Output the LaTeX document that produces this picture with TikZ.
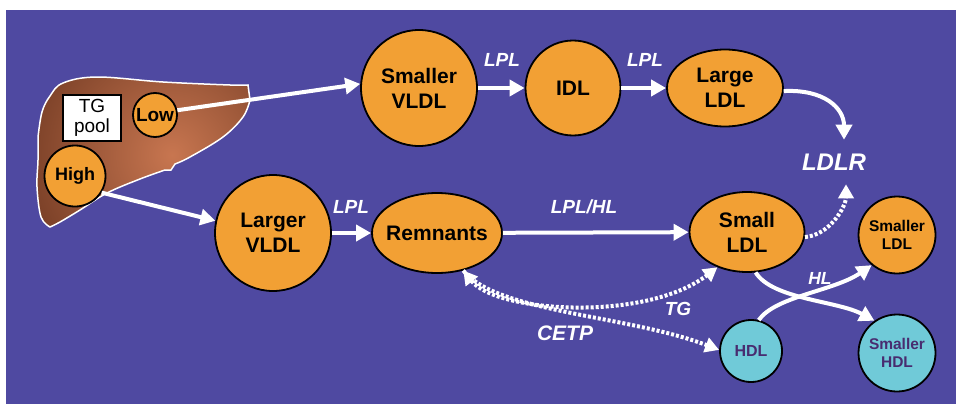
\documentclass[tikz,border=0pt]{standalone}
\usepackage{fontspec}
\setmainfont{Liberation Sans}
\usetikzlibrary{arrows.meta,shapes.geometric}

\definecolor{bgpurple}{RGB}{79,73,161}
\definecolor{lipid}{RGB}{242,160,52}
\definecolor{hdlcyan}{RGB}{112,202,216}
\definecolor{hdltext}{RGB}{72,44,112}
\definecolor{liverdark}{RGB}{95,45,25}
\definecolor{liverlight}{RGB}{200,118,80}

\tikzset{
  flowtip/.tip={Triangle[length=15pt,width=16pt]},
  dottip/.tip={Triangle[length=14pt,width=15pt]},
}

\begin{document}
\begin{tikzpicture}[x=1pt,y=-1pt,
  particle/.style={draw=black,line width=1.8pt,fill=lipid,inner sep=0pt,align=center,
    font=\fontsize{21}{25}\selectfont\bfseries},
  smallparticle/.style={particle,font=\fontsize{15.5}{18}\selectfont\bfseries},
  hdlparticle/.style={particle,fill=hdlcyan,text=hdltext,font=\fontsize{16}{19}\selectfont\bfseries},
  flow/.style={draw=white,line width=4pt,-flowtip},
  exchange/.style={draw=white,line width=4pt,dash pattern=on 3pt off 2pt},
  enzyme/.style={text=white,inner sep=1pt,font=\fontsize{19}{22}\selectfont\bfseries\itshape},
]
\useasboundingbox (0,0) rectangle (957,404);
\fill[white] (0,0) rectangle (957,404);
\fill[bgpurple] (6,10) rectangle (956,404);

% liver silhouette with a soft radial shading
\draw[white,line width=1.5pt,
  path picture={\shade[inner color=liverlight,outer color=liverdark] (172,155) circle (200);}]
  plot[smooth,tension=.6] coordinates {(38,137) (42,112) (50,96) (63,83) (97,77) (163,82) (230,85) (248,85)}
  -- plot[smooth,tension=.6] coordinates {(250,100) (243,117) (223,137) (190,157) (175,164)}
  -- (171,170)
  -- plot[smooth,tension=.6] coordinates {(165,170) (140,179) (107,193) (80,210) (60,222) (50,227)}
  -- plot[smooth,tension=.6] coordinates {(50,227) (41,217) (37,187) (38,160) (38,137)}
  -- cycle;

\node[draw=black,fill=white,line width=1.5pt,minimum width=58pt,minimum height=46pt,
  inner sep=0pt,align=center,font=\fontsize{19}{20}\selectfont] (tgpool) at (92,118) {TG\\pool};
\node[particle,circle,minimum size=44pt,font=\fontsize{19}{22}\selectfont\bfseries] (low) at (155,115) {Low};
\node[particle,circle,minimum size=61pt,font=\fontsize{18}{22}\selectfont\bfseries] (high) at (75,176) {High};

% lipoprotein particles
\node[particle,circle,minimum size=116pt] (svldl) at (419,88) {Smaller\\VLDL};
\node[particle,circle,minimum size=95pt] (idl) at (573,88) {IDL};
\node[particle,ellipse,minimum width=116pt,minimum height=77pt] (lldl) at (725,88) {Large\\LDL};
\node[particle,circle,minimum size=116pt] (lvldl) at (273,233) {Larger\\VLDL};
\node[particle,ellipse,inner xsep=-7pt,minimum width=130pt,minimum height=80pt] (remn) at (437,233) {Remnants};
\node[particle,ellipse,minimum width=115pt,minimum height=80pt] (sldl) at (747,232) {Small\\LDL};
\node[smallparticle,circle,minimum size=77pt] (smldl) at (897,235) {Smaller\\LDL};
\node[hdlparticle,circle,minimum size=62pt] (hdl) at (751,351) {HDL};
\node[hdlparticle,circle,minimum size=77pt,font=\fontsize{15.5}{18}\selectfont\bfseries] (smhdl) at (897,353) {Smaller\\HDL};

% enzyme and receptor labels
\node[enzyme] (lpla) at (502,60) {LPL};
\node[enzyme] (lplb) at (645,60) {LPL};
\node[enzyme] (lplc) at (351,207) {LPL};
\node[enzyme] (lplhl) at (584,207) {LPL/HL};
\node[enzyme,font=\fontsize{17.5}{20}\selectfont\bfseries\itshape] (hl) at (820,278) {HL};
\node[enzyme] (tg) at (678,309) {TG};
\node[enzyme,font=\fontsize{21}{24}\selectfont\bfseries\itshape] (cetp) at (565,333) {CETP};
\node[enzyme,outer sep=13pt,font=\fontsize{24}{28}\selectfont\bfseries\itshape] (ldlr) at (834,162) {LDLR};

% secretion and lipolysis
\draw[flow] (low.12) -- (svldl.176);
\draw[flow] (high.-32) -- (lvldl.168);
\draw[flow] (svldl) -- (idl);
\draw[flow] (idl) -- (lldl);
\draw[flow] (lvldl) -- (remn);
\draw[flow] (remn) -- (sldl);
\draw[flow] (lldl.-3) .. controls +(40,-2) and +(0,-32) .. ([xshift=10pt]ldlr.north);

% receptor uptake of small LDL
\draw[exchange,-dottip] (sldl.-5) .. controls +(25,-2) and +(0,22) .. ([xshift=12pt]ldlr.south);

% CETP-mediated exchange
\draw[exchange,dottip-dottip] (remn.-55) .. controls +(33,42) and +(-72,55) .. (sldl.-130);
\draw[exchange,-dottip] (remn.-55) .. controls +(33,42) and +(-92,-35) .. (hdl.178);

% hepatic lipase remodelling
\draw[flow] (sldl.-78) .. controls +(17,27) and +(-37,-20) .. (smhdl.125);
\draw[flow] (hdl.76) .. controls +(17,-24) and +(-38,26) .. (smldl.-130);
\end{tikzpicture}
\end{document}
